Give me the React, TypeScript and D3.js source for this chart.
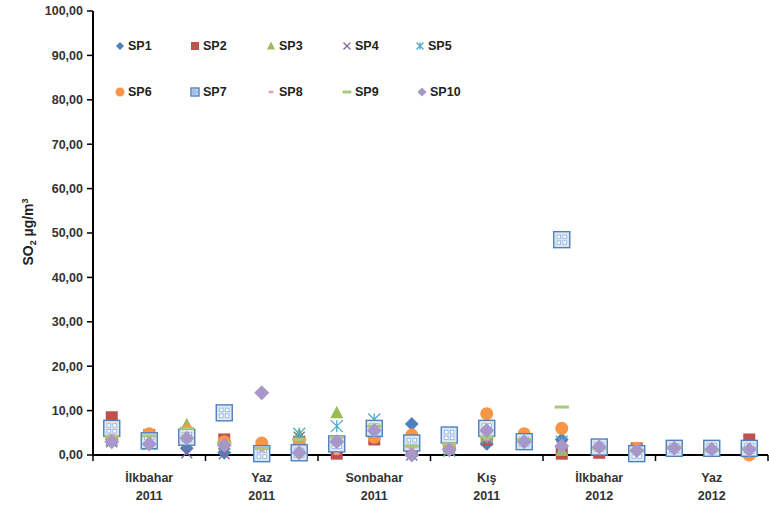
import React from "react";
import * as d3 from "d3";

const seasons = ["İlkbahar|2011", "Yaz|2011", "Sonbahar|2011", "Kış|2011", "İlkbahar|2012", "Yaz|2012"];
const yTicks = [0, 10, 20, 30, 40, 50, 60, 70, 80, 90, 100];
const seriesNames = ["SP1", "SP2", "SP3", "SP4", "SP5", "SP6", "SP7", "SP8", "SP9", "SP10"];

const sp1 = [3.5, 2.8, 1.5, 0.5, 0.3, 2.5, 3.0, 4.5, 7.0, 1.5, 2.5, 3.0, 3.5, 1.5, 0.8, 1.5, 1.0, 1.0];
const sp2 = [8.5, 4.5, 4.0, 3.5, 1.0, 3.0, 0.3, 3.5, 1.5, 2.0, 3.5, 3.5, 0.3, 0.5, 1.5, 2.0, 1.2, 3.5];
const sp3 = [4.0, 4.0, 6.8, 2.5, 1.5, 4.5, 9.5, 6.0, 2.0, 1.5, 4.0, 3.0, 1.0, 1.5, 1.2, 2.0, 1.0, 0.5];
const sp4 = [3.0, 2.5, 0.5, 0.3, 0.3, 4.0, 3.0, 5.0, 0.0, 1.0, 3.5, 3.0, 2.0, 1.5, 1.0, 1.5, 1.0, 1.0];
const sp5 = [3.5, 2.5, 3.5, 2.0, 0.5, 4.8, 6.5, 8.0, 1.0, 1.0, 4.0, 3.0, 3.0, 1.8, 1.0, 1.5, 1.5, 1.5];
const sp6 = [4.0, 4.8, 5.5, 3.0, 2.7, 2.5, 2.0, 4.0, 4.5, 2.0, 9.3, 4.8, 6.0, 1.5, 1.5, 1.5, 1.0, 0.0];
const sp7 = [6.0, 3.2, 4.0, 9.5, 0.3, 0.5, 2.5, 6.0, 2.7, 4.5, 6.0, 3.0, 48.5, 1.8, 0.3, 1.5, 1.5, 1.5];
const sp8 = [4.5, 4.0, 4.5, 3.0, 1.0, 3.5, 0.3, 4.5, 1.5, 2.0, 3.5, 3.0, 1.0, 1.0, 1.0, 1.5, 1.0, 2.0];
const sp9 = [4.2, 4.3, 6.0, 2.8, 1.5, 3.5, 4.0, 6.5, 2.0, 2.5, 4.0, 3.5, 10.8, 1.5, 1.0, 1.8, 1.0, 1.5];
const sp10 = [3.0, 2.5, 3.8, 2.2, 14.0, 0.5, 3.0, 5.5, 0.0, 1.2, 5.5, 3.0, 2.0, 1.8, 1.0, 1.5, 1.3, 1.2];

const seriesValues = [sp1, sp2, sp3, sp4, sp5, sp6, sp7, sp8, sp9, sp10];
const colors = ["#4F81BD", "#C0504D", "#9BBB59", "#8064A2", "#4BACC6", "#F79646", "#4F81BD", "#E6A3A2", "#A9C97A", "#A897C9"];

const W = 769, H = 509;
const left = 93, right = 768, top = 11, bottom = 455;
const font = "'Liberation Sans', Arial, sans-serif";

function Marker({ i, s, c }: { i: number; s: number; c: string }) {
  const h = s / 2;
  switch (i) {
    case 0:
      return <path d={`M0,${-h * 1.15}L${h * 1.15},0L0,${h * 1.15}L${-h * 1.15},0Z`} fill={c} />;
    case 1:
      return <rect x={-h} y={-h} width={s} height={s} fill={c} />;
    case 2:
      return <path d={`M0,${-h * 1.1}L${h},${h * 0.85}L${-h},${h * 0.85}Z`} fill={c} />;
    case 3:
      return <path d={`M${-h},${-h}L${h},${h}M${h},${-h}L${-h},${h}`} stroke={c} strokeWidth={1.3} fill="none" />;
    case 4:
      return (
        <path d={`M${-h},${-h}L${h},${h}M${h},${-h}L${-h},${h}M0,${-h}L0,${h}`} stroke={c} strokeWidth={1.3} fill="none" />
      );
    case 5:
      return <circle r={h} fill={c} />;
    case 6: {
      const q = s * 0.22;
      const g = s * 0.07;
      return (
        <g>
          <rect x={-h} y={-h} width={s} height={s} fill="#DCE6F2" stroke={c} strokeWidth={1.4} />
          <rect x={-q - g} y={-q - g} width={q} height={q} fill="#fff" stroke="#8DB3E2" strokeWidth={0.8} />
          <rect x={g} y={-q - g} width={q} height={q} fill="#fff" stroke="#8DB3E2" strokeWidth={0.8} />
          <rect x={-q - g} y={g} width={q} height={q} fill="#fff" stroke="#8DB3E2" strokeWidth={0.8} />
          <rect x={g} y={g} width={q} height={q} fill="#fff" stroke="#8DB3E2" strokeWidth={0.8} />
        </g>
      );
    }
    case 7:
      return <line x1={-h * 0.6} x2={h * 0.6} stroke={c} strokeWidth={2.5} />;
    case 8:
      return <line x1={-h * 1.1} x2={h * 1.1} stroke={c} strokeWidth={3} />;
    default:
      return <path d={`M0,${-h * 1.15}L${h * 1.15},0L0,${h * 1.15}L${-h * 1.15},0Z`} fill={c} />;
  }
}

export default function App() {
  const idx = d3.range(18);
  const x = d3.scaleBand<number>().domain(idx).range([left, right]);
  const xs = d3.scaleBand<string>().domain(seasons).range([left, right]);
  const y = d3.scaleLinear().domain([0, 100]).range([bottom, top]);

  const legendPos = [
    [120, 46], [195, 46], [271, 46], [347, 46], [420, 46],
    [120, 92], [195, 92], [271, 92], [347, 92], [422, 92],
  ];
  const plotSizes = [12, 12, 13, 11, 12, 13, 16, 10, 13, 13];
  const legSizes = [7, 8, 8, 7, 7, 9, 8, 8, 8, 8];

  return (
    <svg width={W} height={H} style={{ display: "block", position: "absolute", left: 0, top: 0 }} fontFamily={font}>
      <rect width={W} height={H} fill="#fff" />
      {/* y axis */}
      <line x1={left} x2={left} y1={top} y2={bottom} stroke="#000" strokeWidth={2} />
      {yTicks.map((t) => (
        <g key={t} transform={`translate(0,${y(t)})`}>
          <line x1={left - 6} x2={left} stroke="#000" strokeWidth={1.5} />
          <text x={left - 10} dy="0.35em" textAnchor="end" fontSize={12.5} fontWeight="bold" fill="#333">
            {d3.format(".2f")(t).replace(".", ",")}
          </text>
        </g>
      ))}
      <text transform={`translate(33,232) rotate(-90)`} textAnchor="middle" fontSize={14} fontWeight="bold" fill="#222">
        SO<tspan fontSize={9} dy={3}>2</tspan>
        <tspan dy={-3}> µg/m</tspan>
        <tspan fontSize={9} dy={-5}>3</tspan>
      </text>
      {/* x axis */}
      <line x1={left} x2={right} y1={bottom} y2={bottom} stroke="#000" strokeWidth={2} />
      {d3.range(seasons.length + 1).map((k) => {
        const xx = k < seasons.length ? (xs(seasons[k]) as number) : right;
        return <line key={k} x1={xx} x2={xx} y1={bottom} y2={bottom + 6} stroke="#000" strokeWidth={1.5} />;
      })}
      {seasons.map((s) => {
        const [a, b] = s.split("|");
        const cx = (xs(s) as number) + xs.bandwidth() / 2;
        return (
          <text key={s} x={cx} textAnchor="middle" fontSize={12.5} fontWeight="bold" fill="#333">
            <tspan x={cx} y={482}>{a}</tspan>
            <tspan x={cx} y={500}>{b}</tspan>
          </text>
        );
      })}
      {/* points */}
      {seriesValues.map((vals, si) => (
        <g key={si}>
          {vals.map((v, i) => (
            <g key={i} transform={`translate(${(x(i) as number) + x.bandwidth() / 2},${y(v)})`}>
              <Marker i={si} s={plotSizes[si]} c={colors[si]} />
            </g>
          ))}
        </g>
      ))}
      {/* legend */}
      {seriesNames.map((n, si) => (
        <g key={n} transform={`translate(${legendPos[si][0]},${legendPos[si][1]})`}>
          <Marker i={si} s={legSizes[si]} c={colors[si]} />
          <text x={8} dy="0.35em" fontSize={12.5} fontWeight="bold" fill="#222">
            {n}
          </text>
        </g>
      ))}
    </svg>
  );
}
